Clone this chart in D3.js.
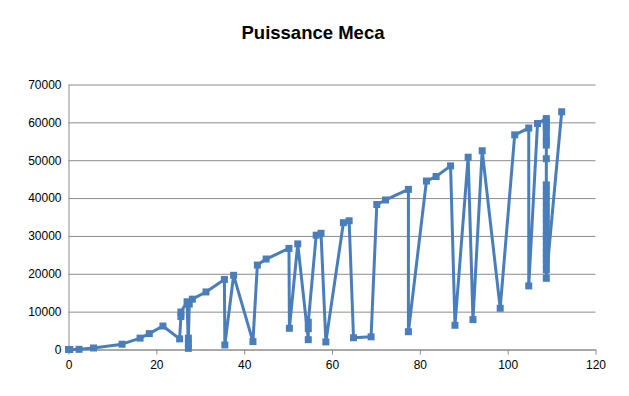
<!DOCTYPE html>
<html>
<head>
<meta charset="utf-8">
<script src="https://cdn.jsdelivr.net/npm/d3@7"></script>
<style>
  body { margin: 0; background: #fff; }
  svg { display: block; }
</style>
</head>
<body>
<div id="chart"></div>
<script>
// values, in drawing order
const xValues = [
    0, 0.3, 2.4, 5.7, 12.2, 16.3, 18.4, 21.5, 25.3, 25.6, 25.6, 27.0, 27.3, 27.3, 27.3, 27.5, 28.2,
    31.3, 35.5, 35.6, 37.6, 42.0, 43.0, 45.0, 50.2, 50.3, 52.2, 54.6, 54.6, 54.6, 56.4, 57.5, 58.6,
    62.6, 63.9, 64.9, 68.9, 70.2, 72.2, 77.4, 77.4, 81.5, 83.7, 87.0, 88.0, 91.0, 92.1, 94.2, 98.3,
    101.6, 104.8, 104.8, 106.8,
    108.8, 108.8, 108.8, 108.8, 108.8, 108.8, 108.8, 108.8, 108.8, 108.8, 108.8, 108.8, 108.8,
    108.8, 108.8, 108.8, 108.8, 108.8, 108.8, 108.8, 108.8, 108.8, 108.8, 108.8, 108.8, 108.8,
    112.3
];
const yValues = [
    0, 0, 50, 400, 1400, 3000, 4200, 6200, 2800, 8700, 9900, 12600, 300, 1600, 3000, 12000, 13300,
    15200, 18500, 1200, 19600, 2100, 22300, 23900, 26700, 5600, 27900, 2600, 5500, 7200, 30200, 30700, 2000,
    33500, 34000, 3100, 3350, 38300, 39500, 42300, 4700, 44500, 45700, 48500, 6400, 50800, 7900, 52500, 10900,
    56700, 58500, 16800, 59700,
    61000, 60300, 59500, 58700, 57800, 56000, 55000, 54000, 50400, 43500, 42000, 40500, 39000,
    37500, 36000, 34500, 33000, 31500, 30000, 28500, 27000, 25500, 24000, 22500, 21000, 18800,
    62800
];
const xTicks = [0, 20, 40, 60, 80, 100, 120];
const yTicks = [0, 10000, 20000, 30000, 40000, 50000, 60000, 70000];
const chartTitle = 'Puissance Meca';

const points = xValues.map((x, i) => ({ x: x, y: yValues[i] }));

const width = 629, height = 396;
const margin = { top: 84.5, right: 33.5, bottom: 46.5, left: 68.5 };
const innerW = width - margin.left - margin.right;
const innerH = height - margin.top - margin.bottom;
const blue = '#4a7ebb';
const gridColor = '#8c8c8c';
const font = '"Liberation Sans", Arial, sans-serif';

const svg = d3.select('#chart').append('svg')
    .attr('width', width)
    .attr('height', height);

const plot = svg.append('g')
    .attr('transform', `translate(${margin.left},${margin.top})`);

const xScale = d3.scaleLinear().domain([0, 120]).range([0, innerW]);
const yScale = d3.scaleLinear().domain([0, 70000]).range([innerH, 0]);

// horizontal gridlines
const yAxis = plot.append('g')
    .call(d3.axisLeft(yScale).tickValues(yTicks).tickFormat(d3.format('d'))
        .tickSize(-innerW).tickSizeOuter(0).tickPadding(7))
    .style('font-family', font)
    .style('font-size', '12px');
yAxis.select('.domain').attr('stroke', gridColor);
yAxis.selectAll('.tick line').attr('stroke', gridColor);
yAxis.selectAll('.tick text').attr('fill', '#000');

const xAxis = plot.append('g')
    .attr('transform', `translate(0,${innerH})`)
    .call(d3.axisBottom(xScale).tickValues(xTicks).tickSize(5).tickSizeOuter(0).tickPadding(6))
    .style('font-family', font)
    .style('font-size', '12px');
xAxis.select('.domain').attr('stroke', gridColor);
xAxis.selectAll('.tick line').attr('stroke', gridColor);
xAxis.selectAll('.tick text').attr('fill', '#000');

const line = d3.line()
    .x(d => xScale(d.x))
    .y(d => yScale(d.y));

plot.append('path')
    .datum(points)
    .attr('fill', 'none')
    .attr('stroke', blue)
    .attr('stroke-width', 3)
    .attr('stroke-linejoin', 'round')
    .attr('d', line);

const size = 7;
plot.append('g')
    .selectAll('rect')
    .data(points)
    .enter()
    .append('rect')
    .attr('x', d => xScale(d.x) - size / 2)
    .attr('y', d => yScale(d.y) - size / 2)
    .attr('width', size)
    .attr('height', size)
    .attr('fill', blue);

svg.append('text')
    .attr('x', 313)
    .attr('y', 39)
    .attr('text-anchor', 'middle')
    .style('font-family', font)
    .style('font-weight', 'bold')
    .style('font-size', '18.5px')
    .attr('fill', '#000')
    .text(chartTitle);
</script>
</body>
</html>
